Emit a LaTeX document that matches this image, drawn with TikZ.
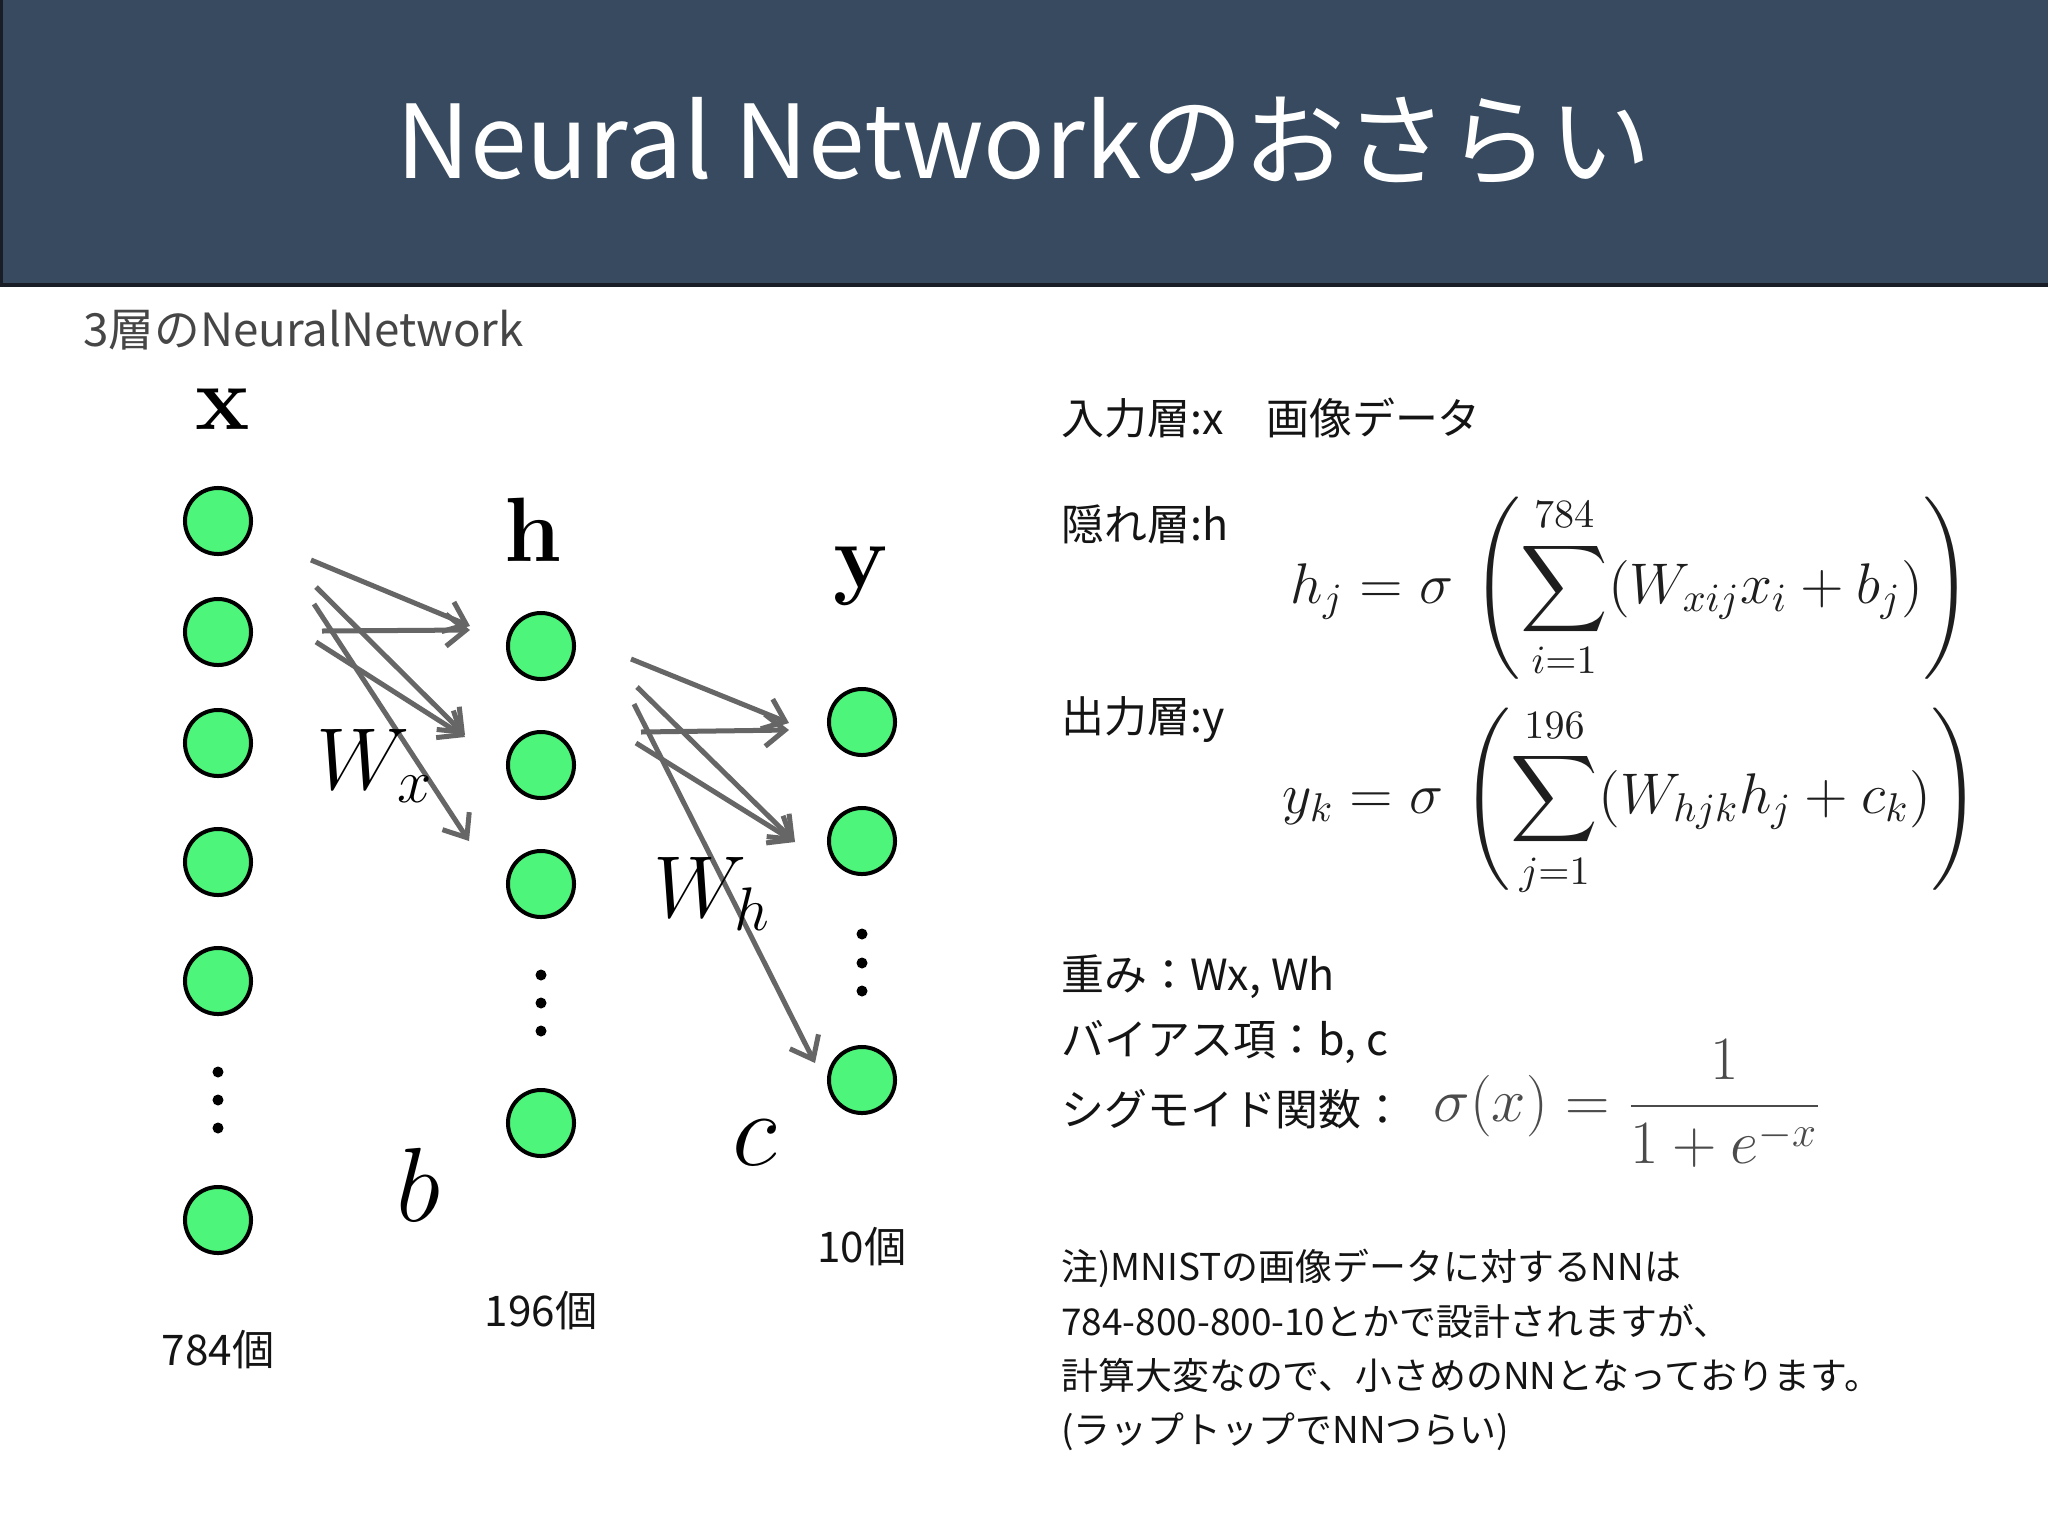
\RequirePackage{fix-cm}
\documentclass[tikz,border=0pt]{standalone}
\usepackage{amsmath}
\usepackage[no-math]{fontspec}
\setmainfont{Noto Sans CJK JP}
\usetikzlibrary{
  arrows.meta,
  positioning
}
\definecolor{headercolor}{RGB}{55, 74, 95}
\definecolor{headerline}{RGB}{25, 30, 38}
\definecolor{neuroncolor}{RGB}{77, 245, 122}
\definecolor{arrowcolor}{RGB}{102, 102, 102}
\definecolor{subtitlecolor}{RGB}{70, 70, 70}
\definecolor{labelcolor}{RGB}{20, 20, 20}
\definecolor{formulacolor}{RGB}{30, 30, 30}
\definecolor{sigmoidcolor}{RGB}{75, 75, 75}
\tikzset{
titletext/.style={
  font=\fontsize{29}{34}\selectfont,
  text=white
},
subtitletext/.style={
  font=\fontsize{13}{16}\selectfont,
  text=subtitlecolor,
  anchor=west
},
infotext/.style={
  font=\fontsize{12.2}{15}\selectfont,
  text=labelcolor,
  anchor=west
},
counttext/.style={
  font=\fontsize{12}{15}\selectfont,
  text=labelcolor
},
notetext/.style={
  font=\fontsize{10.5}{15.4}\selectfont,
  text=labelcolor,
  align=left,
  anchor=west
}
}

\begin{document}
\begin{tikzpicture}[
    % Escala em pixels
    x=0.01cm, y=-0.01cm,
    % Estilo para neuronios
    neuron/.style={
        circle,
        draw=black,
        line width=0.4mm,
        fill=neuroncolor,
        minimum size=6.6mm,
        inner sep=0pt
    },
    % Reticencias
    dotmark/.style={
        circle,
        fill=black,
        minimum size=1.1mm,
        inner sep=0pt
    },
    % Estilo para setas de peso
    weightarrow/.style={
        -{Straight Barb[length=2mm,width=3.2mm]},
        line width=0.5mm,
        draw=arrowcolor
    },
    layerlabel/.style={
        font=\fontsize{26}{30}\selectfont
    },
    weightlabel/.style={
        font=\fontsize{25}{30}\selectfont
    },
    biaslabel/.style={
        font=\fontsize{30}{34}\selectfont
    },
    formula/.style={
        font=\fontsize{16.3}{20}\selectfont,
        text=formulacolor,
        anchor=west,
        inner sep=0pt
    },
]

\useasboundingbox[fill=white] (0,0) rectangle (2048,1536);

% ============================================================================
% Cabecalho
% ============================================================================

\fill[headercolor] (0,0) rectangle (2048,285);
\draw[headerline, line width=0.35mm] (1,0) -- (1,285) -- (2048,285);
\node[titletext] (title) at (1024,141) {Neural Networkのおさらい};

\node[subtitletext] (subtitle) at (71,330) {3層のNeuralNetwork};

% ============================================================================
% Camadas
% ============================================================================

% Entrada x
\foreach \i/\yy in {1/521, 2/632, 3/743, 4/862, 5/981, 6/1220}
    \node[neuron] (x\i) at (218,\yy) {};
\foreach \i/\yy in {1/1072, 2/1100, 3/1128}
    \node[dotmark] (xdot\i) at (218,\yy) {};
\node[layerlabel] (xlabel) at (223,409) {$\mathbf{x}$};
\node[counttext] (xcount) at (218,1350) {784個};

% Oculta h
\foreach \i/\yy in {1/646, 2/765, 3/884, 4/1123}
    \node[neuron] (h\i) at (541,\yy) {};
\foreach \i/\yy in {1/975, 2/1003, 3/1031}
    \node[dotmark] (hdot\i) at (541,\yy) {};
\node[layerlabel] (hlabel) at (533,530) {$\mathbf{h}$};
\node[counttext] (hcount) at (541,1311) {196個};

% Saida y
\foreach \i/\yy in {1/722, 2/841, 3/1080}
    \node[neuron] (y\i) at (862,\yy) {};
\foreach \i/\yy in {1/934, 2/963, 3/991}
    \node[dotmark] (ydot\i) at (862,\yy) {};
\node[layerlabel] (ylabel) at (861,576) {$\mathbf{y}$};
\node[counttext] (ycount) at (862,1247) {10個};

% ============================================================================
% Pesos e bias
% ============================================================================

% Wx
\coordinate (wxs1) at (311,560); \coordinate (wxe1) at (470,626);
\coordinate (wxs2) at (322,631); \coordinate (wxe2) at (470,630);
\coordinate (wxs3) at (316,587); \coordinate (wxe3) at (465,735);
\coordinate (wxs4) at (316,642); \coordinate (wxe4) at (465,737);
\coordinate (wxs5) at (314,604); \coordinate (wxe5) at (469,841);
\foreach \i in {1,...,5}
    \draw[weightarrow] (wxs\i) -- (wxe\i);

% Wh
\coordinate (whs1) at (631,659); \coordinate (whe1) at (789,723);
\coordinate (whs2) at (641,732); \coordinate (whe2) at (789,730);
\coordinate (whs3) at (637,687); \coordinate (whe3) at (795,842);
\coordinate (whs4) at (636,743); \coordinate (whe4) at (795,842);
\coordinate (whs5) at (634,704); \coordinate (whe5) at (815,1063);
\foreach \i in {1,...,5}
    \draw[weightarrow] (whs\i) -- (whe\i);

\node[weightlabel] (wxlabel) at (375,766) {$W_x$};
\node[weightlabel] (whlabel) at (712,894) {$W_h$};
\node[biaslabel] (blabel) at (418,1185) {$b$};
\node[biaslabel] (clabel) at (755,1143) {$c$};

% ============================================================================
% Texto explicativo
% ============================================================================

\node[infotext] (inputinfo) at (1049,418) {入力層:x　画像データ};
\node[infotext] (hiddeninfo) at (1049,524) {隠れ層:h};
\node[formula] (hform) at (1290,588)
    {$\displaystyle h_j = \sigma\,\left(\sum_{i=1}^{784}(W_{xij}x_i + b_j)\right)$};
\node[infotext] (outputinfo) at (1049,720) {出力層:y};
\node[formula] (yform) at (1282,802)
    {$\displaystyle y_k = \sigma\,\left(\sum_{j=1}^{196}(W_{hjk}h_j + c_k)\right)$};

\node[infotext] (weightinfo) at (1049,977) {重み：Wx, Wh};
\node[infotext] (biasinfo) at (1049,1042) {バイアス項：b, c};
\node[infotext] (sigmoidinfo) at (1049,1109) {シグモイド関数：};
\node[formula, font=\fontsize{17.5}{21}\selectfont, text=sigmoidcolor] (sigform) at (1433,1104)
    {$\displaystyle \sigma(x) = \frac{1}{1+e^{-x}}$};

% Observacao
\node[notetext] (note) at (1049,1350) {注)MNISTの画像データに対するNNは\\
784-800-800-10とかで設計されますが、\\
計算大変なので、小さめのNNとなっております。\\
(ラップトップでNNつらい)};

\end{tikzpicture}
\end{document}
